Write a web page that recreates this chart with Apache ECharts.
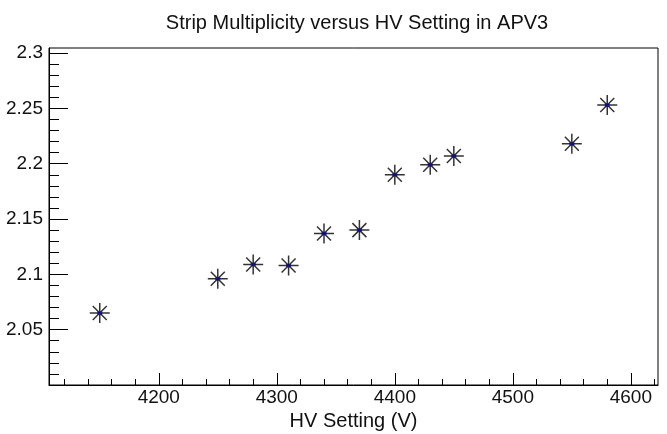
<!DOCTYPE html>
<html>
<head>
<meta charset="utf-8">
<script src="https://cdn.jsdelivr.net/npm/echarts@6/dist/echarts.min.js"></script>
<style>
  html, body { margin: 0; padding: 0; background: #fff; }
  #chart { width: 667px; height: 434px; }
</style>
</head>
<body>
<div id="chart"></div>
<script>
// HV setting (V) and mean strip multiplicity measured in APV3
const hvSetting = [4150, 4250, 4280, 4310, 4340, 4370, 4400, 4430, 4450, 4550, 4580];
const stripMultiplicity = [2.065, 2.096, 2.109, 2.108, 2.137, 2.140, 2.190, 2.199, 2.207, 2.218, 2.253];

// Labelled tick values
const xTickLabels = [4200, 4300, 4400, 4500, 4600];
const yTickLabels = [2.05, 2.1, 2.15, 2.2, 2.25, 2.3];

const X_MIN = 4107, X_MAX = 4623;
const Y_MIN = 2.0, Y_MAX = 2.3046;

// Minor tick positions: every 20 V on x, every 0.01 on y, skipping the major ones
const xMinor = [];
for (let v = 4120; v <= X_MAX; v += 20) if (v % 100 !== 0) xMinor.push(v);
const yMinor = [];
for (let i = 201; i <= 230; i++) if (i % 5 !== 0) yMinor.push(i / 100);

const font = 'Liberation Sans, Arial, sans-serif';
const ink = '#111';

// Asterisk marker (ROOT-style star)
const starPath = 'path://M0 10 L20 10 M10 0 L10 20 M3 3 L17 17 M17 3 L3 17';

const points = hvSetting.map((x, i) => [x, stripMultiplicity[i]]);

const chart = echarts.init(document.getElementById('chart'), null, { renderer: 'canvas' });
chart.setOption({
  backgroundColor: '#fff',
  animation: false,
  title: {
    text: 'Strip Multiplicity versus HV Setting in APV3',
    left: 352,
    textAlign: 'center',
    top: 8,
    textStyle: { fontFamily: font, fontSize: 20, fontWeight: 'normal', color: ink }
  },
  grid: {
    left: 49, right: 9, top: 48, bottom: 49,
    outerBoundsMode: 'none',
    containLabel: false,
    show: true, borderColor: '#000', borderWidth: 1, backgroundColor: 'transparent'
  },
  xAxis: [
    {
      type: 'value', min: X_MIN, max: X_MAX, position: 'bottom',
      name: 'HV Setting (V)', nameLocation: 'middle', nameGap: 23,
      nameTextStyle: { fontFamily: font, fontSize: 20, color: ink },
      splitLine: { show: false },
      axisLine: { show: true, lineStyle: { color: '#000', width: 1 } },
      axisTick: { show: true, inside: true, length: 12, customValues: xTickLabels,
                  lineStyle: { color: '#000', width: 1 } },
      axisLabel: { customValues: xTickLabels, margin: 3, fontFamily: font, fontSize: 19, color: ink,
                   formatter: v => String(v) }
    },
    {
      type: 'value', min: X_MIN, max: X_MAX, position: 'bottom', offset: 0,
      splitLine: { show: false },
      axisLine: { show: false },
      axisTick: { show: true, inside: true, length: 6, customValues: xMinor,
                  lineStyle: { color: '#000', width: 1 } },
      axisLabel: { show: false }
    }
  ],
  yAxis: [
    {
      type: 'value', min: Y_MIN, max: Y_MAX, position: 'left',
      splitLine: { show: false },
      axisLine: { show: true, lineStyle: { color: '#000', width: 1 } },
      axisTick: { show: true, inside: true, length: 19, customValues: yTickLabels,
                  lineStyle: { color: '#000', width: 1 } },
      axisLabel: { customValues: yTickLabels, margin: 6, fontFamily: font, fontSize: 19, color: ink,
                   formatter: v => String(+v.toFixed(2)) }
    },
    {
      type: 'value', min: Y_MIN, max: Y_MAX, position: 'left', offset: 0,
      splitLine: { show: false },
      axisLine: { show: false },
      axisTick: { show: true, inside: true, length: 10, customValues: yMinor,
                  lineStyle: { color: '#000', width: 1 } },
      axisLabel: { show: false }
    }
  ],
  series: [
    {
      type: 'scatter', xAxisIndex: 0, yAxisIndex: 0,
      data: points,
      symbol: starPath, symbolSize: 20,
      itemStyle: { color: 'rgba(0,0,0,0)', borderColor: '#000', borderWidth: 1.5 },
      emphasis: { disabled: true },
      z: 3
    },
    {
      type: 'scatter', xAxisIndex: 0, yAxisIndex: 0,
      data: points,
      symbol: 'rect', symbolSize: [5, 3],
      itemStyle: { color: '#0a0a8c' },
      emphasis: { disabled: true },
      z: 4
    }
  ]
});
</script>
</body>
</html>
